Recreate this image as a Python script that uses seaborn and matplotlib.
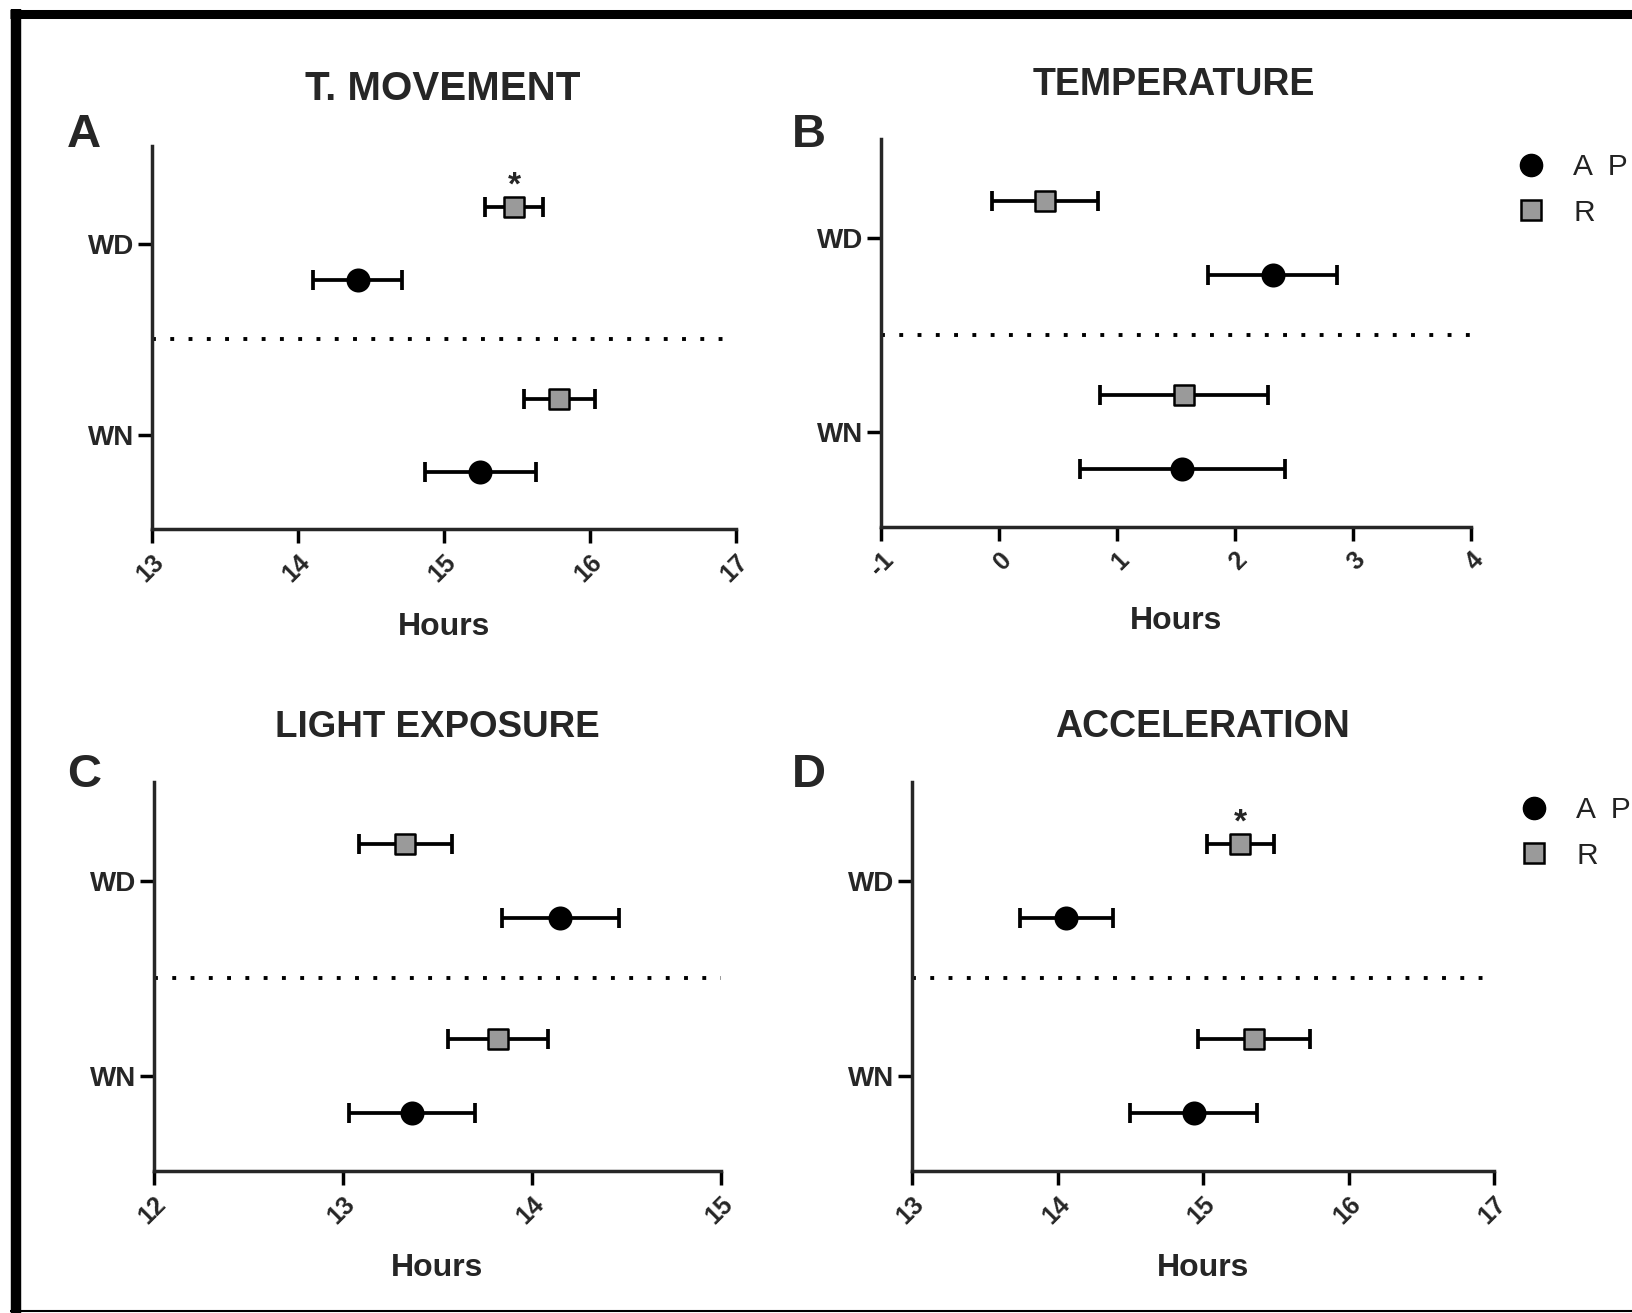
import matplotlib
matplotlib.use('Agg')
import matplotlib.pyplot as plt
import seaborn as sns
import pandas as pd
from matplotlib.lines import Line2D

# ---------------- data ----------------
days = ['WD', 'WN']
groups = ['A P', 'R']
panel_letters = ['A', 'B', 'C', 'D']
panel_titles = ['T. MOVEMENT', 'TEMPERATURE', 'LIGHT EXPOSURE', 'ACCELERATION']

tmov_ap_mean = [14.41, 15.25]
tmov_ap_err = [0.305, 0.38]
tmov_r_mean = [15.48, 15.79]
tmov_r_err = [0.20, 0.245]

temp_ap_mean = [2.32, 1.553]
temp_ap_err = [0.545, 0.87]
temp_r_mean = [0.39, 1.566]
temp_r_err = [0.45, 0.71]

light_ap_mean = [14.15, 13.365]
light_ap_err = [0.31, 0.335]
light_r_mean = [13.33, 13.82]
light_r_err = [0.245, 0.265]

acc_ap_mean = [14.06, 14.935]
acc_ap_err = [0.32, 0.435]
acc_r_mean = [15.255, 15.35]
acc_r_err = [0.23, 0.385]

tmov_ticks = [13, 14, 15, 16, 17]
temp_ticks = [-1, 0, 1, 2, 3, 4]
light_ticks = [12, 13, 14, 15]
acc_ticks = [13, 14, 15, 16, 17]

significant = [True, False, False, True]   # star above R / WD
x_label = 'Hours'

# ---------------- build table ----------------
series = [
    (tmov_ap_mean, tmov_ap_err, tmov_r_mean, tmov_r_err),
    (temp_ap_mean, temp_ap_err, temp_r_mean, temp_r_err),
    (light_ap_mean, light_ap_err, light_r_mean, light_r_err),
    (acc_ap_mean, acc_ap_err, acc_r_mean, acc_r_err),
]
ticks_all = [tmov_ticks, temp_ticks, light_ticks, acc_ticks]

rows = []
for p, (apm, ape, rm, re_) in zip(panel_letters, series):
    for i, d in enumerate(days):
        rows.append(dict(panel=p, day=d, group='A P', mean=apm[i], err=ape[i]))
        rows.append(dict(panel=p, day=d, group='R', mean=rm[i], err=re_[i]))
df = pd.DataFrame(rows)
day_pos = {'WD': 1.0, 'WN': 0.0}
grp_off = {'A P': -0.19, 'R': 0.19}
df['ypos'] = df['day'].map(day_pos) + df['group'].map(grp_off)

# ---------------- style ----------------
sns.set_style('ticks')
plt.rcParams['font.family'] = ['Liberation Sans', 'DejaVu Sans']
plt.rcParams['axes.linewidth'] = 2.5

W, H = 1633, 1313
fig = plt.figure(figsize=(W / 100, H / 100), dpi=100)

def fx(x):
    return x / W

def fy(y):
    return 1 - y / H

# axes boxes in pixel coords: left, top, right, bottom
boxes = [(152, 146, 736, 529), (881, 139, 1471, 527),
         (154, 782, 721, 1171), (912, 782, 1494, 1171)]
title_pos = [(443, 100), (1174, 95), (437, 737), (1202, 737)]
title_size = [29, 27, 26.5, 27]
letter_pos = [(84, 147), (809, 147), (84, 787), (809, 787)]
xlabel_pos = [(444, 635), (1176, 629), (437, 1276), (1203, 1276)]
legend_panels = {'B': (1531, 168), 'D': (1534, 811)}

marker_map = {'A P': 'o', 'R': 's'}
color_map = {'A P': 'black', 'R': '#9a9a9a'}
size_map = {'A P': 15.5 ** 2, 'R': 14 ** 2}

for k, p in enumerate(panel_letters):
    l, t, r, b = boxes[k]
    ax = fig.add_axes([fx(l), fy(b), (r - l) / W, (b - t) / H])
    sub = df[df['panel'] == p]
    for g in groups:
        sg = sub[sub['group'] == g]
        ax.errorbar(sg['mean'], sg['ypos'], xerr=sg['err'], fmt='none',
                    ecolor='black', elinewidth=2.7, capsize=7.5, capthick=2.7,
                    zorder=3)
        sns.scatterplot(data=sg, x='mean', y='ypos', marker=marker_map[g],
                        s=size_map[g], color=color_map[g], edgecolor='black',
                        linewidth=1.8, legend=False, zorder=4, ax=ax,
                        clip_on=False)
    ax.axhline(0.5, color='black', lw=2.8, dashes=(1, 3.7), zorder=1)
    tk = ticks_all[k]
    ax.set_xlim(tk[0], tk[-1])
    ax.set_ylim(-0.49, 1.51)
    ax.set_xticks(tk)
    ax.set_xticklabels([str(v) for v in tk], rotation=45, ha='right',
                       va='top', rotation_mode='anchor', fontsize=18,
                       fontweight='bold')
    ax.set_yticks([day_pos[d] for d in days])
    ax.set_yticklabels(days, fontsize=20, fontweight='bold')
    ax.tick_params(axis='both', width=2.5, length=10, color='black', pad=3)
    ax.tick_params(axis='x', pad=5)
    for lab in ax.get_xticklabels():
        lab.set_x(lab.get_position()[0])
    ax.set_xlabel('')
    ax.set_ylabel('')
    sns.despine(ax=ax)
    if significant[k]:
        srow = sub[(sub['group'] == 'R') & (sub['day'] == 'WD')].iloc[0]
        ax.annotate('*', xy=(srow['mean'], srow['ypos']), xytext=(0, 15),
                    textcoords='offset points', ha='center', va='center',
                    fontsize=24, fontweight='bold')
    # texts
    tx, ty = title_pos[k]
    fig.text(fx(tx), fy(ty), panel_titles[k], ha='center', va='baseline',
             fontsize=title_size[k], fontweight='bold')
    lx, ly = letter_pos[k]
    fig.text(fx(lx), fy(ly), p, ha='center', va='baseline', fontsize=34,
             fontweight='bold')
    hx, hy = xlabel_pos[k]
    fig.text(fx(hx), fy(hy), x_label, ha='center', va='baseline',
             fontsize=23, fontweight='bold')
    if p in legend_panels:
        mx, my = legend_panels[p]
        handles = [Line2D([], [], ls='none', marker='o', markersize=16,
                          markerfacecolor='black', markeredgecolor='black'),
                   Line2D([], [], ls='none', marker='s', markersize=14.5,
                          markerfacecolor='#9a9a9a', markeredgecolor='black',
                          markeredgewidth=1.8)]
        fig.legend(handles, ['A  P', 'R'], loc='upper left',
                   bbox_to_anchor=(fx(mx - 11.5), fy(my - 15)),
                   frameon=False, fontsize=21.5, handlelength=0.8,
                   handletextpad=1.0, labelspacing=0.6, borderpad=0,
                   borderaxespad=0, labelcolor='#222222')

# outer frame
fig.add_artist(Line2D([fx(10), fx(W)], [fy(13.5), fy(13.5)], color='black',
                      lw=6.5, transform=fig.transFigure,
                      solid_capstyle='butt'))
fig.add_artist(Line2D([fx(15.7), fx(15.7)], [fy(9), fy(H)], color='black',
                      lw=7.5, transform=fig.transFigure,
                      solid_capstyle='butt'))
fig.add_artist(Line2D([fx(10), fx(W)], [fy(1311), fy(1311)], color='black',
                      lw=1.5, transform=fig.transFigure,
                      solid_capstyle='butt'))

fig.savefig('out.png', dpi=100)
